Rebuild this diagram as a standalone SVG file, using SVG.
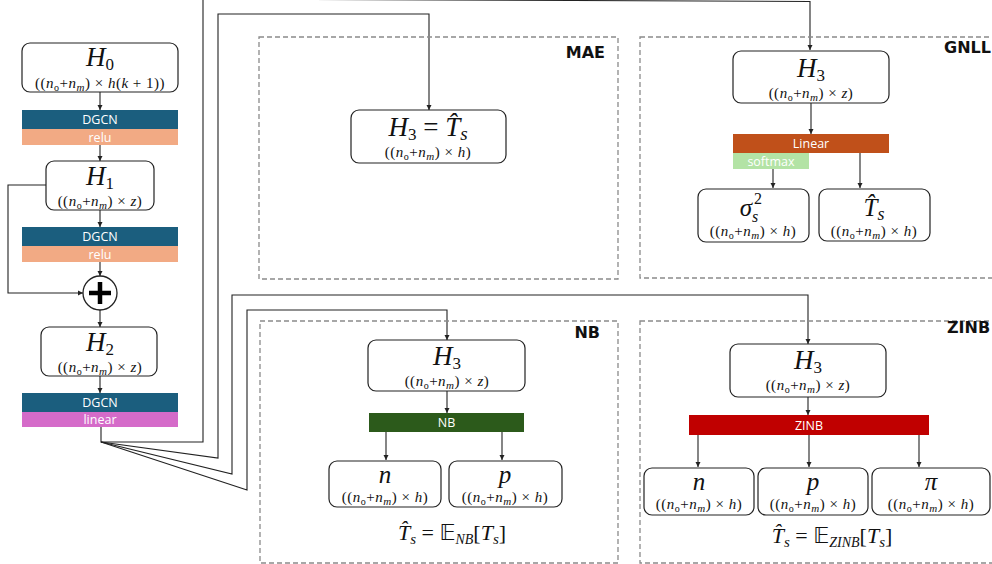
<svg xmlns="http://www.w3.org/2000/svg" width="992" height="564" viewBox="0 0 992 564">
<defs>
<marker id="ah" markerUnits="userSpaceOnUse" markerWidth="6" markerHeight="6" refX="5" refY="3" orient="auto"><path d="M0,0.5 L5,3 L0,5.5 z" fill="#222"/></marker>
<style>
.box{fill:#fff;stroke:#222;stroke-width:1.2}
.dash{fill:none;stroke:#8a8a8a;stroke-width:1.3;stroke-dasharray:5 3}
.con{fill:none;stroke:#222;stroke-width:1.1}
.arr{marker-end:url(#ah)}
.m{font-family:"Liberation Serif","DejaVu Serif",serif;font-style:italic;fill:#111;text-anchor:middle}
.big{font-size:27px}
.mid{font-size:25px}
.sm{font-size:15px;letter-spacing:0.5px}
.u{font-style:normal}
.bt{font-family:"Open Sans","Liberation Sans",sans-serif;font-size:12.5px;fill:#fff;text-anchor:middle}
.lbl{font-family:"DejaVu Sans",sans-serif;font-weight:bold;font-size:16px;fill:#111}
</style>
</defs>
<rect width="992" height="564" fill="#fff"/>

<g id="connectors">
<path class="con arr" d="M100,92 V110"/>
<path class="con arr" d="M100,145 V161"/>
<path class="con arr" d="M100,210 V227"/>
<path class="con arr" d="M100,262 V276"/>
<path class="con arr" d="M46,185 H8 V293 H83"/>
<path class="con arr" d="M100,310 V327"/>
<path class="con arr" d="M100,376 V393"/>
<path class="con arr" d="M101,427 V442 H203 V-1 L810,1.5 V50"/>
<path class="con arr" d="M101,442 L218,458 V14 H429 V110"/>
<path class="con arr" d="M101,442 L232,474 V295 H808 V344"/>
<path class="con arr" d="M101,442 L247,490 V310 H447 V340"/>
<path class="con arr" d="M811,103 V134"/>
<path class="con arr" d="M773,169 V188"/>
<path class="con arr" d="M860,153 V188"/>
<path class="con arr" d="M447,391 V413"/>
<path class="con arr" d="M386,432 V460"/>
<path class="con arr" d="M502,432 V460"/>
<path class="con arr" d="M808,397 V415"/>
<path class="con arr" d="M698,435 V467"/>
<path class="con arr" d="M809,435 V467"/>
<path class="con arr" d="M919,435 V467"/>
</g>

<g id="H0">
<rect class="box" x="22" y="43" width="156" height="49" rx="8"/>
<text class="m big" x="100" y="66">H<tspan class="u" font-size="17" dy="4">0</tspan></text>
<text class="m sm" x="100" y="88"><tspan class="u">((</tspan>n<tspan class="u" font-size="10" dy="3">o</tspan><tspan class="u" dy="-3">+</tspan>n<tspan font-size="11" dy="3">m</tspan><tspan class="u" dy="-3">) × </tspan>h<tspan class="u">(</tspan>k<tspan class="u"> + 1))</tspan></text>
</g>
<g id="dgcn1">
<rect x="22" y="110" width="156" height="19" fill="#1B5E7E"/>
<text class="bt" x="100" y="124">DGCN</text>
<rect x="22" y="129" width="156" height="16" fill="#F2AA84"/>
<text class="bt" x="100" y="141.5">relu</text>
</g>
<g id="H1">
<rect class="box" x="46" y="161" width="108" height="49" rx="8"/>
<text class="m big" x="100" y="185">H<tspan class="u" font-size="17" dy="4">1</tspan></text>
<text class="m sm" x="100" y="206"><tspan class="u">((</tspan>n<tspan class="u" font-size="10" dy="3">o</tspan><tspan class="u" dy="-3">+</tspan>n<tspan font-size="11" dy="3">m</tspan><tspan class="u" dy="-3">) × </tspan>z<tspan class="u">)</tspan></text>
</g>
<g id="dgcn2">
<rect x="22" y="227" width="156" height="19" fill="#1B5E7E"/>
<text class="bt" x="100" y="241">DGCN</text>
<rect x="22" y="246" width="156" height="16" fill="#F2AA84"/>
<text class="bt" x="100" y="258.5">relu</text>
</g>
<g id="plus">
<circle cx="100" cy="293" r="17" fill="#fff" stroke="#222" stroke-width="1.3"/>
<path d="M89,293 H111 M100,282 V304" stroke="#000" stroke-width="4.5" fill="none"/>
</g>
<g id="H2">
<rect class="box" x="41" y="327" width="116" height="49" rx="8"/>
<text class="m big" x="100" y="351">H<tspan class="u" font-size="17" dy="4">2</tspan></text>
<text class="m sm" x="100" y="372"><tspan class="u">((</tspan>n<tspan class="u" font-size="10" dy="3">o</tspan><tspan class="u" dy="-3">+</tspan>n<tspan font-size="11" dy="3">m</tspan><tspan class="u" dy="-3">) × </tspan>z<tspan class="u">)</tspan></text>
</g>
<g id="dgcn3">
<rect x="22" y="393" width="156" height="19" fill="#1B5E7E"/>
<text class="bt" x="100" y="407">DGCN</text>
<rect x="22" y="412" width="156" height="15" fill="#D56BC9"/>
<text class="bt" x="100" y="424">linear</text>
</g>

<g id="MAE">
<rect class="dash" x="259" y="37" width="359" height="242"/>
<text class="lbl" x="605" y="58" text-anchor="end">MAE</text>
<rect class="box" x="351" y="110" width="155" height="53" rx="8"/>
<text class="m big" x="428" y="136">H<tspan class="u" font-size="17" dy="4">3</tspan><tspan class="u" dy="-4"> = </tspan>T̂<tspan font-size="19" dy="4">s</tspan></text>
<text class="m sm" x="428" y="157"><tspan class="u">((</tspan>n<tspan class="u" font-size="10" dy="3">o</tspan><tspan class="u" dy="-3">+</tspan>n<tspan font-size="11" dy="3">m</tspan><tspan class="u" dy="-3">) × </tspan>h<tspan class="u">)</tspan></text>
</g>

<g id="GNLL">
<rect class="dash" x="640" y="37" width="360" height="241"/>
<text class="lbl" x="944" y="53">GNLL</text>
<rect class="box" x="733" y="51" width="156" height="52" rx="8"/>
<text class="m big" x="811" y="77">H<tspan class="u" font-size="17" dy="4">3</tspan></text>
<text class="m sm" x="811" y="98"><tspan class="u">((</tspan>n<tspan class="u" font-size="10" dy="3">o</tspan><tspan class="u" dy="-3">+</tspan>n<tspan font-size="11" dy="3">m</tspan><tspan class="u" dy="-3">) × </tspan>z<tspan class="u">)</tspan></text>
<rect x="733" y="134" width="156" height="19" fill="#C0501A"/>
<text class="bt" x="811" y="148">Linear</text>
<rect x="733" y="153" width="76" height="16" fill="#B3E3A5"/>
<text class="bt" x="771" y="165.5">softmax</text>
</g>
<g id="sigma">
<rect class="box" x="698" y="189" width="111" height="53" rx="8"/>
<text class="m mid" x="749" y="216">σ<tspan font-size="16" dy="6">s</tspan></text>
<text class="m u" font-size="16" x="758" y="204">2</text>
<text class="m sm" x="753" y="236"><tspan class="u">((</tspan>n<tspan class="u" font-size="10" dy="3">o</tspan><tspan class="u" dy="-3">+</tspan>n<tspan font-size="11" dy="3">m</tspan><tspan class="u" dy="-3">) × </tspan>h<tspan class="u">)</tspan></text>
</g>
<g id="That">
<rect class="box" x="819" y="189" width="111" height="52" rx="8"/>
<text class="m mid" x="874" y="216">T̂<tspan font-size="18" dy="4">s</tspan></text>
<text class="m sm" x="874" y="236"><tspan class="u">((</tspan>n<tspan class="u" font-size="10" dy="3">o</tspan><tspan class="u" dy="-3">+</tspan>n<tspan font-size="11" dy="3">m</tspan><tspan class="u" dy="-3">) × </tspan>h<tspan class="u">)</tspan></text>
</g>

<g id="NB">
<rect class="dash" x="260" y="321" width="358" height="242"/>
<text class="lbl" x="600" y="338" text-anchor="end">NB</text>
<rect class="box" x="368" y="340" width="157" height="51" rx="8"/>
<text class="m big" x="447" y="365">H<tspan class="u" font-size="17" dy="4">3</tspan></text>
<text class="m sm" x="447" y="386"><tspan class="u">((</tspan>n<tspan class="u" font-size="10" dy="3">o</tspan><tspan class="u" dy="-3">+</tspan>n<tspan font-size="11" dy="3">m</tspan><tspan class="u" dy="-3">) × </tspan>z<tspan class="u">)</tspan></text>
<rect x="369" y="413" width="155" height="19" fill="#2C5A1B"/>
<text class="bt" x="446.5" y="427">NB</text>
<text class="m" font-size="22" x="452" y="540">T̂<tspan font-size="15" dy="4">s</tspan><tspan class="u" dy="-4"> =  </tspan><tspan class="u" font-family="DejaVu Sans">𝔼</tspan><tspan font-size="14" dy="4">NB</tspan><tspan class="u" dy="-4">[</tspan>T<tspan font-size="15" dy="4">s</tspan><tspan class="u" dy="-4">]</tspan></text>
</g>
<g id="NB_n">
<rect class="box" x="329" y="461" width="112" height="46" rx="8"/>
<text class="m mid" x="385" y="483">n</text>
<text class="m sm" x="385" y="502"><tspan class="u">((</tspan>n<tspan class="u" font-size="10" dy="3">o</tspan><tspan class="u" dy="-3">+</tspan>n<tspan font-size="11" dy="3">m</tspan><tspan class="u" dy="-3">)  × </tspan>h<tspan class="u">)</tspan></text>
</g>
<g id="NB_p">
<rect class="box" x="449" y="461" width="113" height="46" rx="8"/>
<text class="m mid" x="505" y="483">p</text>
<text class="m sm" x="505" y="502"><tspan class="u">((</tspan>n<tspan class="u" font-size="10" dy="3">o</tspan><tspan class="u" dy="-3">+</tspan>n<tspan font-size="11" dy="3">m</tspan><tspan class="u" dy="-3">) × </tspan>h<tspan class="u">)</tspan></text>
</g>

<g id="ZINB">
<rect class="dash" x="640" y="321" width="360" height="242"/>
<text class="lbl" x="947" y="333">ZINB</text>
<rect class="box" x="730" y="344" width="156" height="53" rx="8"/>
<text class="m big" x="808" y="369">H<tspan class="u" font-size="17" dy="4">3</tspan></text>
<text class="m sm" x="808" y="390"><tspan class="u">((</tspan>n<tspan class="u" font-size="10" dy="3">o</tspan><tspan class="u" dy="-3">+</tspan>n<tspan font-size="11" dy="3">m</tspan><tspan class="u" dy="-3">) × </tspan>z<tspan class="u">)</tspan></text>
<rect x="689" y="415" width="240" height="20" fill="#C00000"/>
<text class="bt" x="809" y="429.5">ZINB</text>
<text class="m" font-size="22" x="832" y="543">T̂<tspan font-size="15" dy="4">s</tspan><tspan class="u" dy="-4"> = </tspan><tspan class="u" font-family="DejaVu Sans">𝔼</tspan><tspan font-size="14" dy="4">ZINB</tspan><tspan class="u" dy="-4">[</tspan>T<tspan font-size="15" dy="4">s</tspan><tspan class="u" dy="-4">]</tspan></text>
</g>
<g id="ZINB_n">
<rect class="box" x="644" y="468" width="110" height="47" rx="8"/>
<text class="m mid" x="699" y="490">n</text>
<text class="m sm" x="699" y="509"><tspan class="u">((</tspan>n<tspan class="u" font-size="10" dy="3">o</tspan><tspan class="u" dy="-3">+</tspan>n<tspan font-size="11" dy="3">m</tspan><tspan class="u" dy="-3">) × </tspan>h<tspan class="u">)</tspan></text>
</g>
<g id="ZINB_p">
<rect class="box" x="758" y="468" width="110" height="47" rx="8"/>
<text class="m mid" x="813" y="490">p</text>
<text class="m sm" x="813" y="509"><tspan class="u">((</tspan>n<tspan class="u" font-size="10" dy="3">o</tspan><tspan class="u" dy="-3">+</tspan>n<tspan font-size="11" dy="3">m</tspan><tspan class="u" dy="-3">) × </tspan>h<tspan class="u">)</tspan></text>
</g>
<g id="ZINB_pi">
<rect class="box" x="872" y="468" width="118" height="47" rx="8"/>
<text class="m mid" x="931" y="490">π</text>
<text class="m sm" x="931" y="509"><tspan class="u">((</tspan>n<tspan class="u" font-size="10" dy="3">o</tspan><tspan class="u" dy="-3">+</tspan>n<tspan font-size="11" dy="3">m</tspan><tspan class="u" dy="-3">) × </tspan>h<tspan class="u">)</tspan></text>
</g>
</svg>
